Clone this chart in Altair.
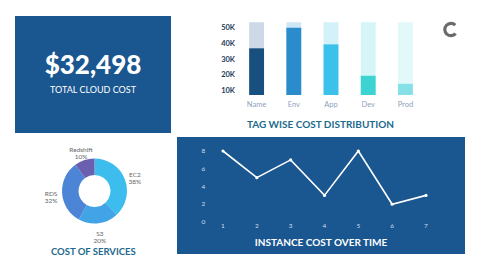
import altair as alt
import pandas as pd

# ---------------- data ----------------
kpi_value = ["$32,498"]
kpi_label = ["TOTAL CLOUD COST"]

tag_categories = ["Name", "Env", "App", "Dev", "Prod"]
tag_costs_k = [37.1, 50.2, 39.6, 19.7, 14.6]
tag_capacity_k = [53.6, 53.6, 53.6, 53.6, 53.6]
tag_base_k = [7.5, 7.5, 7.5, 7.5, 7.5]
tag_ticks_k = [10, 20, 30, 40, 50]
tag_tick_labels = ["10K", "20K", "30K", "40K", "50K"]
tag_title = ["TAG WISE COST DISTRIBUTION"]

services = ["EC2", "S3", "RDS", "Redshift"]
service_pct = [38, 20, 32, 10]
service_title = ["COST OF SERVICES"]

time_points = [1, 2, 3, 4, 5, 6, 7]
instance_cost = [8, 5, 7, 3, 8, 2, 3]
time_y_ticks = [0, 2, 4, 6, 8]
time_title = ["INSTANCE COST OVER TIME"]

# ---------------- styles ----------------
PANEL = "#1a5690"
TEAL = "#1d6a8c"
FONT = "Lato"
bar_colors = ["#17507f", "#2b8ccc", "#3cc2ea", "#3ed3d3", "#86e0e8"]
bar_bg_colors = ["#cdd9e6", "#cfe6f5", "#d3f1f9", "#d5f5f6", "#e3f8f9"]
donut_colors = ["#3dbdee", "#42a3e6", "#4d85d6", "#6b5fb0"]

one = pd.DataFrame({"k": [0]})

# ---------------- panels ----------------
kpi_panel = alt.Chart(one).mark_rect(color=PANEL).encode(
    x=alt.value(15), x2=alt.value(171), y=alt.value(16), y2=alt.value(133)
)
line_panel = alt.Chart(one).mark_rect(color=PANEL).encode(
    x=alt.value(177), x2=alt.value(465), y=alt.value(137), y2=alt.value(254)
)

# ---------------- KPI ----------------
kpi_big = alt.Chart(pd.DataFrame({"t": kpi_value})).mark_text(
    font=FONT, fontSize=26, fontWeight=900, color="white", baseline="middle", align="center"
).encode(x=alt.value(93), y=alt.value(66), text="t:N")
kpi_small = alt.Chart(pd.DataFrame({"t": kpi_label})).mark_text(
    font=FONT, fontSize=9, color="white", baseline="middle", align="center"
).encode(x=alt.value(93), y=alt.value(89.5), text="t:N")

# ---------------- tag bars ----------------
bars_df = pd.DataFrame({
    "cat": tag_categories, "cost": tag_costs_k, "cap": tag_capacity_k,
    "base": tag_base_k, "c": bar_colors, "bg": bar_bg_colors,
})
ticks_df = pd.DataFrame({"v": tag_ticks_k, "lab": tag_tick_labels})

xs = alt.Scale(domain=tag_categories, range=[238, 424], paddingInner=0.6, paddingOuter=0.3)
ys = alt.Scale(domain=[7.5, 53.6], range=[95, 22.3], zero=False, nice=False)

bg_bars = alt.Chart(bars_df).mark_bar().encode(
    x=alt.X("cat:N", scale=xs, axis=None, sort=tag_categories),
    y=alt.Y("cap:Q", scale=ys, axis=None),
    y2="base:Q",
    color=alt.Color("bg:N", scale=None),
)
fg_bars = alt.Chart(bars_df).mark_bar().encode(
    x=alt.X("cat:N", scale=xs, axis=None, sort=tag_categories),
    y=alt.Y("cost:Q", scale=ys, axis=None),
    y2="base:Q",
    color=alt.Color("c:N", scale=None),
)
cat_labels = alt.Chart(bars_df).mark_text(
    font=FONT, fontSize=7.5, color="#8da3bd", baseline="middle"
).encode(
    x=alt.X("cat:N", scale=xs, axis=None, sort=tag_categories),
    y=alt.value(104.5), text="cat:N",
)
tick_labels = alt.Chart(ticks_df).mark_text(
    font=FONT, fontSize=7.5, fontWeight="bold", color="#1f3b5a", align="right", baseline="middle"
).encode(
    x=alt.value(235), y=alt.Y("v:Q", scale=ys, axis=None), text="lab:N",
)
bar_block = alt.layer(bg_bars, fg_bars, cat_labels, tick_labels)

tag_title_t = alt.Chart(pd.DataFrame({"t": tag_title})).mark_text(
    font=FONT, fontSize=10, fontWeight="bold", color=TEAL, baseline="middle"
).encode(x=alt.value(320.5), y=alt.value(124.5), text="t:N")

# ---------------- donut ----------------
donut_df = pd.DataFrame({
    "svc": services, "pct": service_pct, "c": donut_colors,
    "idx": list(range(len(services))),
})
donut_df["lab"] = donut_df["svc"] + "\n" + donut_df["pct"].astype(str) + "%"

arcs = alt.Chart(donut_df).mark_arc(innerRadius=16, outerRadius=32.5).encode(
    theta=alt.Theta("pct:Q", stack=True),
    order=alt.Order("idx:Q"),
    color=alt.Color("c:N", scale=None),
    x=alt.value(94.5), y=alt.value(191),
)
arc_labels = alt.Chart(donut_df).mark_text(
    radius=43.5, font=FONT, fontSize=6.5, color="#666666", lineBreak="\n",
    lineHeight=7, baseline="middle", align="center",
).encode(
    theta=alt.Theta("pct:Q", stack=True),
    order=alt.Order("idx:Q"),
    text="lab:N",
    x=alt.value(94.5), y=alt.value(191),
)
donut_block = alt.layer(arcs, arc_labels)

service_title_t = alt.Chart(pd.DataFrame({"t": service_title})).mark_text(
    font=FONT, fontSize=9.5, fontWeight="bold", color=TEAL, baseline="middle"
).encode(x=alt.value(93.3), y=alt.value(251.5), text="t:N")

# ---------------- line ----------------
line_df = pd.DataFrame({"t": time_points, "v": instance_cost})
lx = alt.Scale(domain=[1, 7], range=[223, 426], nice=False, zero=False)
ly = alt.Scale(domain=[0, 8], range=[222, 151], nice=False)

line = alt.Chart(line_df).mark_line(color="white", strokeWidth=1.6).encode(
    x=alt.X("t:Q", scale=lx, axis=None), y=alt.Y("v:Q", scale=ly, axis=None)
)
pts = alt.Chart(line_df).mark_point(filled=True, color="white", size=10, opacity=1).encode(
    x=alt.X("t:Q", scale=lx, axis=None), y=alt.Y("v:Q", scale=ly, axis=None)
)
xlab = alt.Chart(pd.DataFrame({"t": time_points})).mark_text(
    font=FONT, fontSize=6.5, color="#d0dced", baseline="middle"
).encode(x=alt.X("t:Q", scale=lx, axis=None), y=alt.value(226), text="t:N")
ylab = alt.Chart(pd.DataFrame({"v": time_y_ticks})).mark_text(
    font=FONT, fontSize=6.5, color="#d0dced", baseline="middle"
).encode(x=alt.value(203.5), y=alt.Y("v:Q", scale=ly, axis=None), text="v:N")
line_block = alt.layer(line, pts, xlab, ylab)

time_title_t = alt.Chart(pd.DataFrame({"t": time_title})).mark_text(
    font=FONT, fontSize=10, fontWeight="bold", color="white", baseline="middle"
).encode(x=alt.value(321), y=alt.value(243), text="t:N")

# ---------------- logo ----------------
logo = alt.Chart(one).mark_arc(
    theta=2.3, theta2=7.05, innerRadius=4.6, outerRadius=7.8, color="#6b6b6b"
).encode(x=alt.value(451), y=alt.value(29.5))

chart = alt.layer(
    kpi_panel, line_panel, kpi_big, kpi_small,
    bar_block, tag_title_t,
    donut_block, service_title_t,
    line_block, time_title_t, logo,
).resolve_scale(
    x="independent", y="independent", theta="independent"
).properties(
    width=480, height=270, padding=0, autosize=alt.AutoSizeParams(type="none"),
    background="white",
).configure_view(stroke=None)

chart.save("out.html", embed_options={"renderer": "svg", "actions": False})
